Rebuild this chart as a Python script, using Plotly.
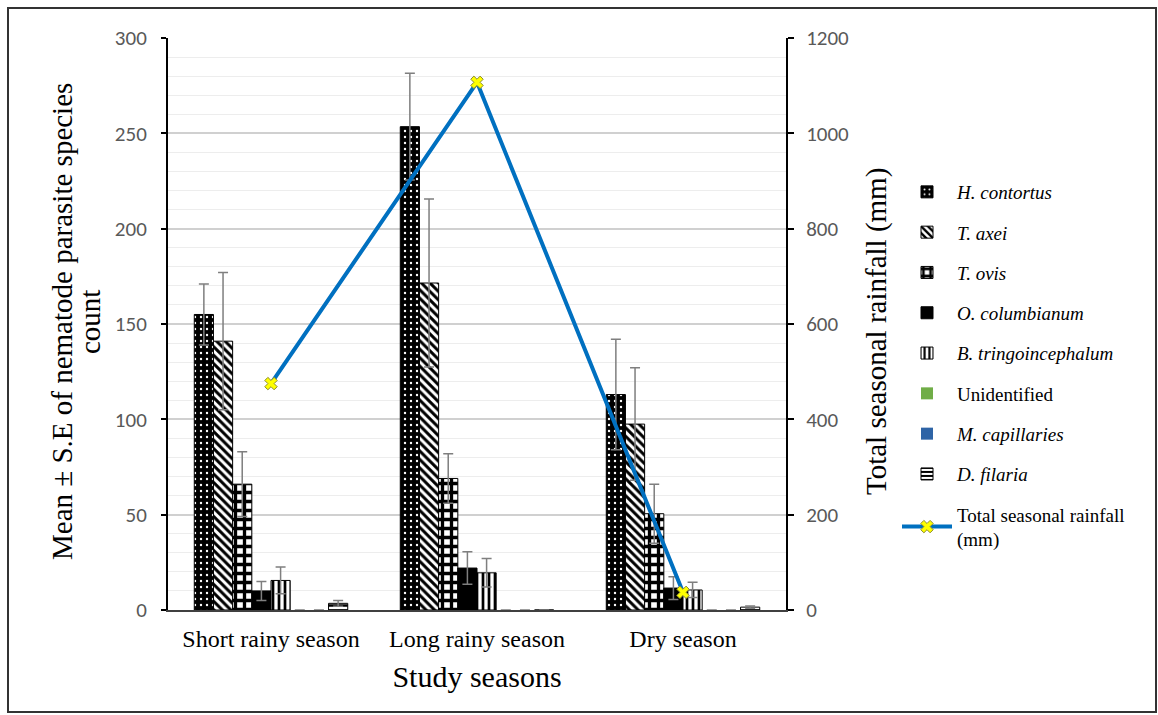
import plotly.graph_objects as go

seasons = ["Short rainy season", "Long rainy season", "Dry season"]
species = ["<i>H. contortus</i>", "<i>T. axei</i>", "<i>T. ovis</i>", "<i>O. columbianum</i>",
           "<i>B. tringoincephalum</i>", "Unidentified", "<i>M. capillaries</i>", "<i>D. filaria</i>"]
h_contortus = [155, 253.5, 113]
h_contortus_se = [16, 28, 29]
t_axei = [141, 171.5, 97.5]
t_axei_se = [36, 44, 29.5]
t_ovis = [66, 69, 50.5]
t_ovis_se = [17, 13, 15.5]
o_columbianum = [10, 22, 11.5]
o_columbianum_se = [5, 8.5, 6]
b_tringo = [15.5, 19.5, 10.5]
b_tringo_se = [7, 7.5, 4]
unidentified = [0, 0, 0]
unidentified_se = [0, 0, 0]
m_capillaries = [0, 0, 0]
m_capillaries_se = [0, 0, 0]
d_filaria = [3.5, 0, 1.5]
d_filaria_se = [1.5, 0, 0.6]
rainfall = [475, 1107, 37]

values = [h_contortus, t_axei, t_ovis, o_columbianum, b_tringo, unidentified, m_capillaries, d_filaria]
errors = [h_contortus_se, t_axei_se, t_ovis_se, o_columbianum_se, b_tringo_se, unidentified_se,
          m_capillaries_se, d_filaria_se]

patterns = [
    dict(shape=".", bgcolor="black", fgcolor="white", size=6, solidity=0.12, fillmode="replace"),
    dict(shape="\\", bgcolor="white", fgcolor="black", size=6, solidity=0.5, fillmode="replace"),
    dict(shape="+", bgcolor="white", fgcolor="black", size=9, solidity=0.6, fillmode="replace"),
    None,
    dict(shape="|", bgcolor="white", fgcolor="black", size=6, solidity=0.45, fillmode="replace"),
    None,
    None,
    dict(shape="-", bgcolor="white", fgcolor="black", size=5, solidity=0.5, fillmode="replace"),
]
colors = ["black", "white", "white", "black", "white", "#70AD47", "#2E64A6", "white"]

serif = "Liberation Serif, Times New Roman, serif"
sans = "Carlito, Lato, Liberation Sans, sans-serif"

fig = go.Figure()
for i, name in enumerate(species):
    marker = dict(color=colors[i], line=dict(color="black", width=1))
    if patterns[i] is not None:
        marker["pattern"] = patterns[i]
    if name == "Unidentified" or name == "<i>M. capillaries</i>":
        marker["line"] = dict(color=colors[i], width=0)
    fig.add_trace(go.Bar(
        x=seasons, y=values[i], name=name, marker=marker, legendgroup=str(i),
        error_y=dict(type="data", array=errors[i], color="#7f7f7f", thickness=1.5, width=5, visible=True),
    ))

fig.add_trace(go.Scatter(
    x=seasons, y=rainfall, yaxis="y2", mode="lines+markers",
    name="Total seasonal rainfall<br>(mm)", legendgroup="rain",
    line=dict(color="#0070C0", width=4),
    marker=dict(symbol="x", size=11, color="#FFFF00", line=dict(color="#8c8c30", width=1)),
))

W, H = 1158, 715
L, R, T, B = 168, 372, 38, 105
pw, ph = W - L - R, H - T - B

def px_x(x):
    return (x - L) / pw

def px_y(y):
    return (H - B - y) / ph

fig.update_layout(
    width=W, height=H,
    margin=dict(l=L, r=R, t=T, b=B),
    paper_bgcolor="white", plot_bgcolor="white",
    barmode="group", bargap=0.255, bargroupgap=0,
    font=dict(family=serif, color="black"),
    showlegend=True,
    legend=dict(x=px_x(897), y=px_y(173), xanchor="left", yanchor="top",
                font=dict(family=serif, size=19, color="black"),
                tracegroupgap=12.6, itemwidth=50, bgcolor="rgba(0,0,0,0)"),
    xaxis=dict(
        type="category", showline=True, linecolor="#404040", linewidth=1.5,
        ticks="", tickfont=dict(family=serif, size=24, color="black"), ticklabelstandoff=6,
        title=dict(text="Study seasons", font=dict(family=serif, size=30, color="black"), standoff=15),
        showgrid=False,
    ),
    yaxis=dict(
        range=[0, 300], dtick=50, showline=True, linecolor="black", linewidth=2,
        ticks="outside", ticklen=5, tickcolor="black", tickwidth=1.5,
        tickfont=dict(family=sans, size=21, color="#595959"), ticklabelstandoff=10,
        showgrid=True, gridcolor="#D0D0D0", gridwidth=1.5,
        minor=dict(dtick=10, showgrid=True, gridcolor="#EDEDED", gridwidth=1),
        zeroline=False,
    ),
    yaxis2=dict(
        range=[0, 1200], dtick=200, overlaying="y", side="right",
        showline=True, linecolor="black", linewidth=2,
        ticks="outside", ticklen=6, tickcolor="black", tickwidth=1.5,
        tickfont=dict(family=sans, size=21, color="#595959"), ticklabelstandoff=8,
        showgrid=False, zeroline=False,
    ),
)

# axis titles as rotated annotations (tight line spacing as in the reference)
fig.add_annotation(text="Mean ± S.E of nematode parasite species", textangle=-90,
                   xref="paper", yref="paper", x=px_x(62), y=px_y(322),
                   xanchor="center", yanchor="middle", showarrow=False,
                   font=dict(family=serif, size=29, color="black"))
fig.add_annotation(text="count", textangle=-90,
                   xref="paper", yref="paper", x=px_x(90), y=px_y(322),
                   xanchor="center", yanchor="middle", showarrow=False,
                   font=dict(family=serif, size=29, color="black"))
fig.add_annotation(text="Total seasonal rainfall (mm)", textangle=-90,
                   xref="paper", yref="paper", x=px_x(876), y=px_y(332),
                   xanchor="center", yanchor="middle", showarrow=False,
                   font=dict(family=serif, size=29, color="black"))

fig.add_shape(type="rect", xref="paper", yref="paper",
              x0=px_x(8), x1=px_x(1156), y0=px_y(712), y1=px_y(8),
              line=dict(color="#333333", width=2), fillcolor="rgba(0,0,0,0)", layer="below")

fig.write_html("out.html")
